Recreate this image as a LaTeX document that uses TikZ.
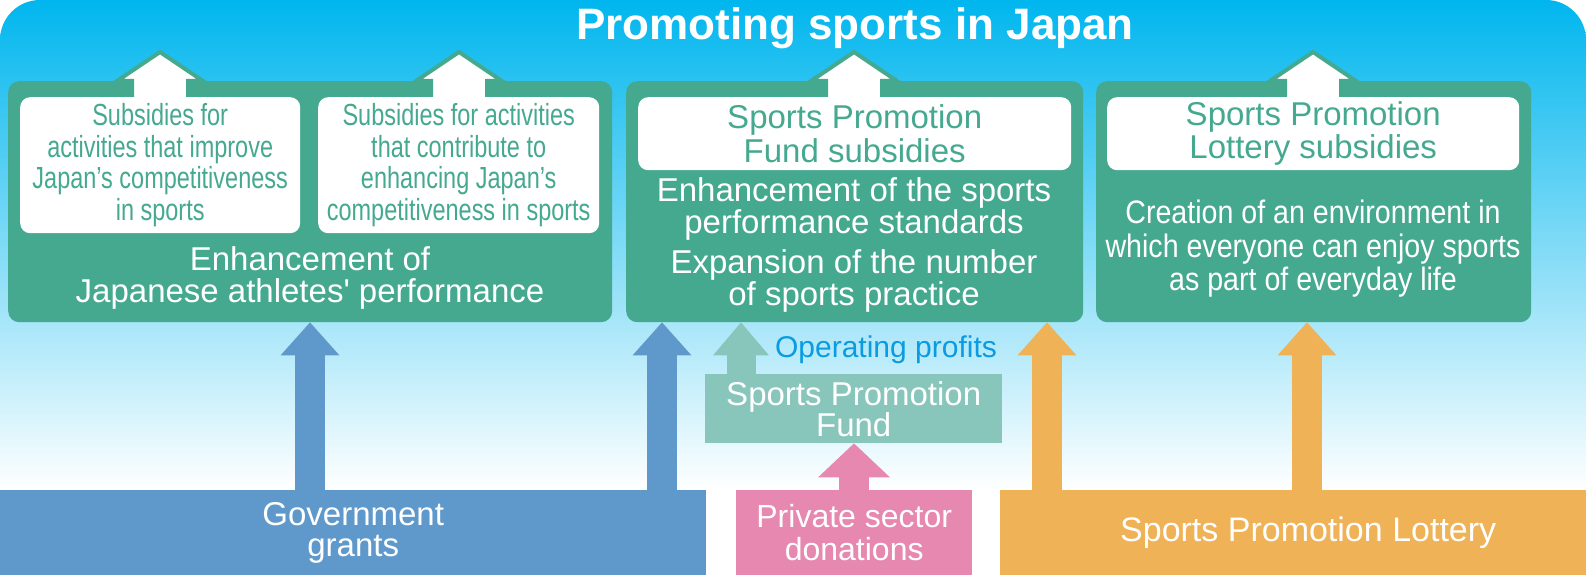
\documentclass[tikz,border=0pt]{standalone}
\usepackage{fontspec}
\setmainfont{Liberation Sans}
\newfontfamily\narrowfont[FakeStretch=0.77]{Liberation Sans}
\newfontfamily\semifont[FakeStretch=0.88]{Liberation Sans}
\usetikzlibrary{arrows.meta, positioning}

\definecolor{skytop}{HTML}{00B6EE}
\definecolor{skymid}{HTML}{8DD3F5}
\definecolor{panelgreen}{HTML}{45A98F}
\definecolor{govblue}{HTML}{5F99CB}
\definecolor{fundteal}{HTML}{88C6BB}
\definecolor{donpink}{HTML}{E688B0}
\definecolor{lotorange}{HTML}{EFB256}
\definecolor{profitblue}{HTML}{0A9BE1}

\begin{document}
\begin{tikzpicture}[x=1pt, y=-1pt,
    panel/.style={fill=panelgreen, rounded corners=11pt, anchor=north west, inner sep=0pt},
    subbox/.style={fill=white, rounded corners=10pt, anchor=north west, inner sep=0pt, align=center, text=panelgreen},
    source/.style={anchor=north west, inner sep=0pt, align=center, text=white},
    paneltext/.style={text=white, align=center, inner sep=0pt},
    upblock/.style={line width=30pt, -{Triangle[width=59pt, length=33pt, line width=0pt]}},
    lift/.pic={
        \filldraw[fill=white, draw=panelgreen, line width=4pt, line join=miter]
            (-28,10) -- (-28,-16) -- (-43,-16) -- (0,-45) -- (43,-16) -- (28,-16) -- (28,10) -- cycle;
    }]
    \useasboundingbox (0,0) rectangle (1586,575);
    \fill[white] (0,0) rectangle (1586,575);
    % sky background
    \begin{scope}
        \clip[rounded corners=40pt] (0,0) rectangle (1586,700);
        \shade[top color=skytop, middle color=skymid, bottom color=white] (0,0) rectangle (1586,490);
    \end{scope}

    \node[font=\bfseries\fontsize{44}{44}\selectfont, text=white, anchor=base] (title) at (855,40) {Promoting sports in Japan};

    % green panels
    \node[panel, minimum width=604pt, minimum height=241pt] (athl) at (8,81) {};
    \node[panel, minimum width=457pt, minimum height=241pt] (fundsub) at (626,81) {};
    \node[panel, minimum width=435pt, minimum height=241pt] (lotsub) at (1096,81) {};

    \pic at (160,97) {lift};
    \pic at (459,97) {lift};
    \pic at (854,97) {lift};
    \pic at (1313,97) {lift};

    \node[subbox, font=\narrowfont\fontsize{30.5}{31.5}\selectfont, minimum width=280pt, minimum height=136pt] (compete) at (20,97)
        {Subsidies for\\activities that improve\\Japan’s competitiveness\\in sports};
    \node[subbox, font=\narrowfont\fontsize{30.5}{31.5}\selectfont, minimum width=281pt, minimum height=136pt] (enhance) at (318,97)
        {Subsidies for activities\\that contribute to\\enhancing Japan’s\\competitiveness in sports};
    \node[subbox, font=\fontsize{33}{33.5}\selectfont, minimum width=433pt, minimum height=73pt] (fundbox) at (638,97)
        {Sports Promotion\\Fund subsidies};
    \node[subbox, font=\fontsize{33}{33.5}\selectfont, minimum width=412pt, minimum height=73pt] (lotbox) at (1107,97)
        {Sports Promotion\\Lottery subsidies};

    \node[paneltext, font=\fontsize{33}{32}\selectfont] (athltext) at (310,278)
        {Enhancement of\\Japanese athletes\textquotesingle\ performance};
    \node[paneltext, font=\fontsize{33}{30}\selectfont] (fundtext) at (854,245)
        {Enhancement of the sports\\performance standards\\[9pt]Expansion of the number\\of sports practice};
    \node[paneltext, font=\semifont\fontsize{32.5}{33.5}\selectfont] (lottext) at (1313,249)
        {Creation of an environment in\\which everyone can enjoy sports\\as part of everyday life};

    % sources
    \node[source, fill=govblue, minimum width=706pt, minimum height=85pt, font=\fontsize{33}{31}\selectfont] (gov) at (0,490)
        {Government\\grants};
    \node[source, fill=donpink, minimum width=236pt, minimum height=85pt, font=\fontsize{32}{33}\selectfont] (don) at (736,490)
        {Private sector\\donations};
    \node[source, fill=lotorange, minimum width=616pt, minimum height=85pt, font=\fontsize{34}{34}\selectfont] (lottery) at (1000,490)
        {Sports Promotion Lottery};
    \node[source, fill=fundteal, minimum width=297pt, minimum height=69pt, font=\fontsize{33}{31}\selectfont] (fund) at (705,374)
        {Sports Promotion\\Fund};
    \node[text=profitblue, font=\fontsize{30}{30}\selectfont, anchor=base, inner sep=0pt] (profit) at (886,357) {Operating profits};

    % arrows
    \coordinate (g1) at (310,0);
    \coordinate (g2) at (662,0);
    \coordinate (f1) at (741,0);
    \coordinate (d1) at (854,0);
    \coordinate (l1) at (1047,0);
    \coordinate (l2) at (1307,0);
    \draw[upblock, govblue] (gov.north -| g1) -- (athl.south -| g1);
    \draw[upblock, govblue] (gov.north -| g2) -- (fundsub.south -| g2);
    \draw[upblock, fundteal, line width=29pt, -{Triangle[width=56pt, length=33pt, line width=0pt]}] (fund.north -| f1) -- (fundsub.south -| f1);
    \draw[upblock, donpink, -{Triangle[width=72pt, length=34pt, line width=0pt]}] (don.north -| d1) -- (fund.south -| d1);
    \draw[upblock, lotorange] (lottery.north -| l1) -- (fundsub.south -| l1);
    \draw[upblock, lotorange] (lottery.north -| l2) -- (lotsub.south -| l2);
\end{tikzpicture}
\end{document}
